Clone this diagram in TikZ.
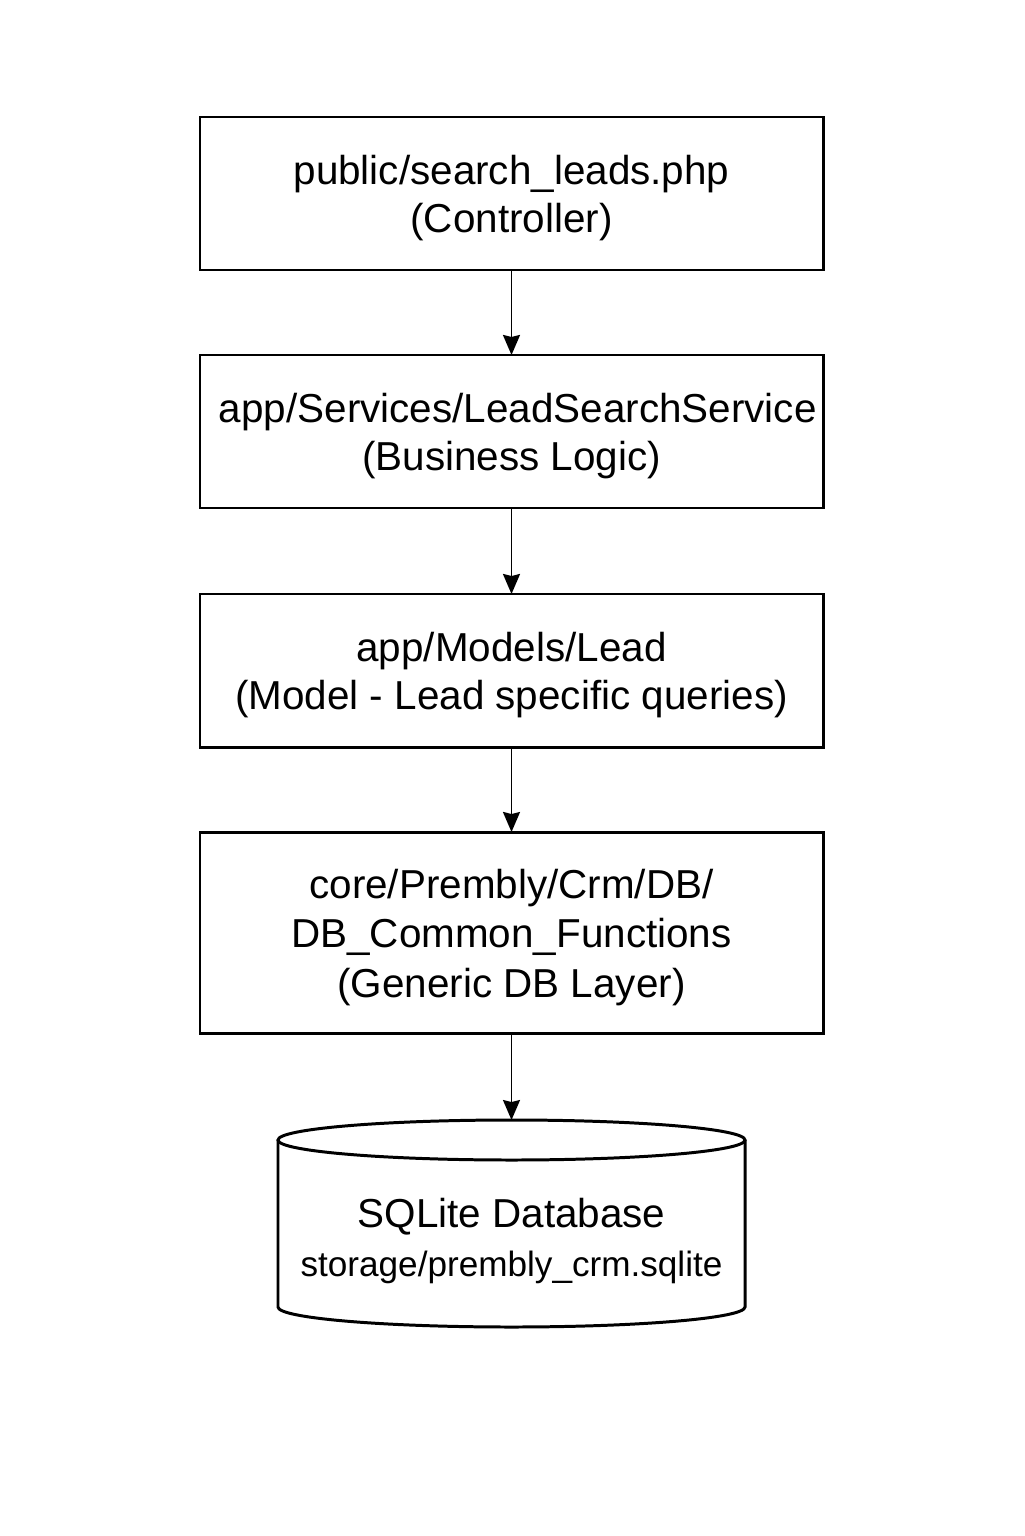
\documentclass[tikz,border=0pt]{standalone}
\usepackage{fontspec}
\setmainfont{Liberation Sans}
\usetikzlibrary{arrows.meta}

\newcommand{\lift}{\rule{0pt}{0.78cm}}
\tikzset{
	layer/.style={draw, line width=1.7pt, minimum width=12.46cm, minimum height=3.06cm, inner sep=0pt, outer sep=0pt, align=center, font=\fontsize{23}{27.5}\selectfont},
	dbbox/.style={minimum width=9.34cm, minimum height=4.14cm, inner sep=0pt, outer sep=0pt, align=center},
	flow/.style={line width=1.1pt, -{Stealth[length=0.4cm, width=0.34cm, inset=0.04cm]}}
}

\begin{document}
\begin{tikzpicture}
		\useasboundingbox[fill=white] (0, 0) rectangle (20.48, -30.72);
		\node[layer] (ctrl) at (10.23, -3.87) {\lift public/search\_leads.php\\(Controller)};
		\node[layer] (svc) at (10.23, -8.63) {\lift\hspace*{0.25cm}app/Services/LeadSearchService\\(Business Logic)};
		\node[layer] (model) at (10.23, -13.41) {\lift app/Models/Lead\\(Model - Lead specific queries)};
		\node[layer, minimum height=4.02cm, font=\fontsize{23}{28.3}\selectfont] (dblayer) at (10.23, -18.65) {\lift core/Prembly/Crm/DB/\\DB\_Common\_Functions\\(Generic DB Layer)};
		\node[dbbox] (db) at (10.23, -24.47) {};
		% cylinder outline
		\draw[line width=1.7pt] ([yshift=-0.4cm]db.north) ellipse (4.67cm and 0.4cm);
		\draw[line width=1.7pt] ([yshift=-0.4cm]db.north west) -- ([yshift=0.4cm]db.south west) arc (180:360:4.67cm and 0.4cm) -- ([yshift=-0.4cm]db.north east);
		\node[align=center, inner sep=0pt] (dbtext) at ([yshift=-0.35cm]db.center) {\fontsize{23}{28}\selectfont SQLite Database\\[0.3cm]\fontsize{20}{28}\selectfont storage/prembly\_crm.sqlite};
		\foreach \a/\b in {ctrl/svc, svc/model, model/dblayer, dblayer/db}
			\draw[flow] (\a) -- (\b);
	\end{tikzpicture}
\end{document}
